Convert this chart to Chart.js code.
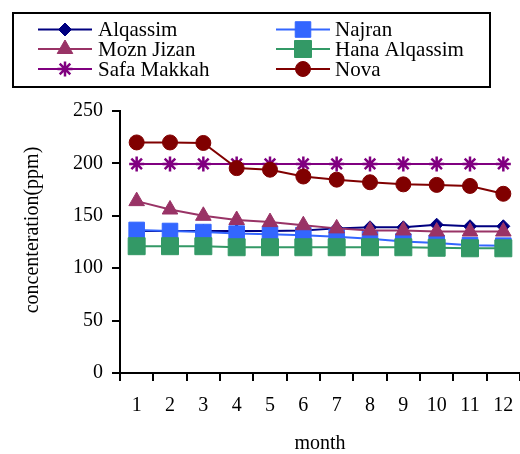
<!DOCTYPE html>
<html><head><meta charset="utf-8">
<script src="https://cdn.jsdelivr.net/npm/chart.js@4/dist/chart.umd.min.js"></script>
<style>html,body{margin:0;padding:0;background:#fff}#wrap{width:520px;height:454px}</style>
</head><body><div id="wrap"><canvas id="c" width="520" height="454"></canvas></div>
<script>
const months = ['1','2','3','4','5','6','7','8','9','10','11','12'];
const seriesNames = ['Alqassim','Najran','Mozn Jizan','Hana Alqassim','Safa Makkah','Nova'];
const alqassim     = [135.5,135.5,135.5,135.5,135.5,136,138,139,139,141.5,140,140];
const najran       = [136.5,135.5,134.5,133,132.5,131.5,130,128,125.5,124,122,121.5];
const moznJizan    = [164,156,150,146,144,141,138,136,136,135,135,135];
const hanaAlqassim = [121,121,121,120,120,120,120,120,120,119.5,119,119];
const safaMakkah   = [199.5,199.5,199.5,199.5,199.5,199.5,199.5,199.5,199.5,199.5,199.5,199.5];
const nova         = [220,220,219.5,195.5,194,187.5,184.5,182,180,179.5,178.5,171];
const yTicks = [0,50,100,150,200,250];
const xTitle = 'month';
const yTitle = 'concenteration(ppm)';

const colors  = ['#000080','#3366FF','#993366','#339966','#800080','#800000'];
const styles  = ['rectRot','rect','triangle','rect','star','circle'];
const radii   = [6.5,11,9,12,7.5,7.5];
const pbw     = [1,1,1,1,2.5,1];
const allData = [alqassim,najran,moznJizan,hanaAlqassim,safaMakkah,nova];
const FONT = 'Liberation Serif, Times New Roman, serif';

const datasets = seriesNames.map((n,i)=>({
  label:n, data:allData[i], borderColor:colors[i], backgroundColor:colors[i],
  borderWidth:2, pointStyle:styles[i], pointRadius:radii[i], pointBorderWidth:pbw[i],
  pointBackgroundColor:colors[i], pointBorderColor:colors[i], order:5-i, tension:0, clip:false
}));

const extras = {
  id:'extras',
  afterDraw(chart){
    const ctx = chart.ctx;
    ctx.save();
    ctx.strokeStyle='#000'; ctx.lineWidth=2;
    ctx.strokeRect(13,13,477,74);
    const cols=[{l:38,r:92,m:65,t:98},{l:276,r:330,m:303,t:335}];
    const rows=[29.5,49,69];
    ctx.font='21px '+FONT; ctx.textBaseline='middle'; ctx.textAlign='left';
    seriesNames.forEach((n,i)=>{
      const c=cols[i%2], y=rows[Math.floor(i/2)];
      ctx.strokeStyle=colors[i]; ctx.fillStyle=colors[i]; ctx.lineWidth=2;
      ctx.beginPath(); ctx.moveTo(c.l,y); ctx.lineTo(c.r,y); ctx.stroke();
      ctx.lineWidth=pbw[i];
      Chart.helpers.drawPoint(ctx,{pointStyle:styles[i],radius:radii[i],rotation:0,borderWidth:pbw[i]},c.m,y);
      ctx.fillStyle='#000';
      ctx.fillText(n,c.t,y+1);
    });
    ctx.fillStyle='#000'; ctx.font='20px '+FONT; ctx.textAlign='center'; ctx.textBaseline='middle';
    const a=chart.chartArea;
    ctx.fillText(xTitle,(a.left+a.right)/2,444);
    ctx.translate(33,230); ctx.rotate(-Math.PI/2);
    ctx.fillText(yTitle,0,0);
    ctx.restore();
  }
};

new Chart(document.getElementById('c'),{
  type:'line',
  data:{labels:months,datasets},
  plugins:[extras],
  options:{
    responsive:false, animation:false, devicePixelRatio:1,
    layout:{autoPadding:false,padding:{top:111,left:0,right:0,bottom:0}},
    plugins:{legend:{display:false},tooltip:{enabled:false}},
    scales:{
      x:{type:'category',offset:true,
        grid:{offset:true,drawOnChartArea:false,drawTicks:true,tickLength:8,color:'#000',lineWidth:2},
        border:{display:true,color:'#000',width:2},
        ticks:{color:'#000',font:{family:FONT,size:20},padding:13,maxRotation:0,autoSkip:false},
        afterFit(s){s.height=81; s.paddingLeft=0; s.paddingRight=0;}
      },
      y:{min:0,max:250,
        afterBuildTicks(s){s.ticks=yTicks.map(v=>({value:v}));},
        grid:{drawOnChartArea:false,drawTicks:true,tickLength:8,color:'#000',lineWidth:2},
        border:{display:true,color:'#000',width:2},
        ticks:{color:'#000',font:{family:FONT,size:20},padding:9},
        afterFit(s){s.width=120; s.paddingTop=0; s.paddingBottom=0;}
      }
    }
  }
});
</script></body></html>
